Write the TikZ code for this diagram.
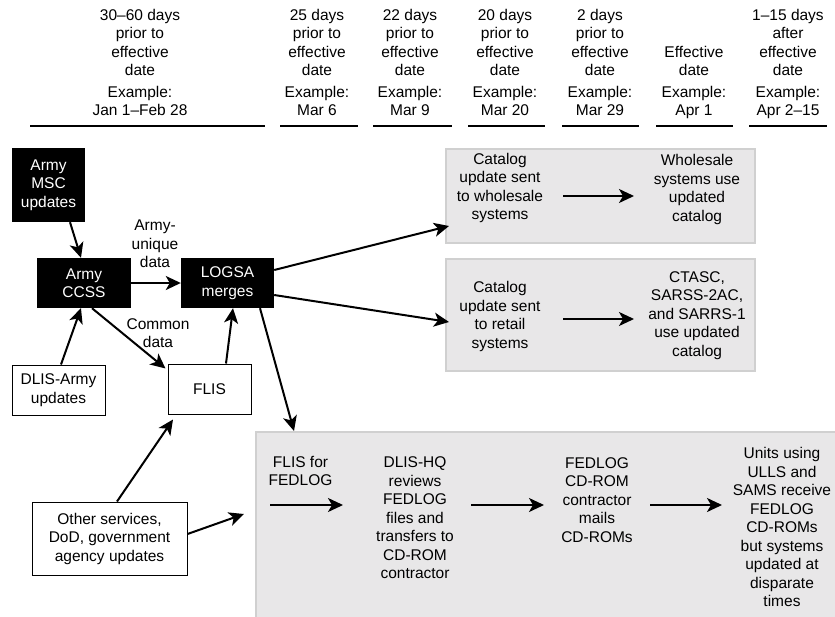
\documentclass[tikz,border=0pt]{standalone}
\usepackage{fontspec}
\setmainfont{Liberation Sans}
\usetikzlibrary{arrows.meta}
\definecolor{greyfill}{HTML}{E8E7E8}
\definecolor{greyedge}{HTML}{D0D0D0}
\begin{document}
\begin{tikzpicture}[x=1pt,y=-1pt,
  every node/.style={font=\fontsize{15.5}{18.5}\selectfont, align=center, inner sep=0pt},
  hdr/.style={anchor=north},
  blackbox/.style={fill=black, text=white},
  whitebox/.style={draw=black, line width=1pt, fill=white},
  greybox/.style={draw=greyedge, line width=2pt, fill=greyfill},
  arr/.style={-{Stealth[length=15pt,width=14pt,inset=4pt]}, line width=2pt},
  hrule/.style={line width=2.4pt}]
\clip (0,0) rectangle (835,616);
\fill[white] (0,0) rectangle (835,616);

% header
\node[hdr] (h1) at (140,8.7) {30–60 days\\prior to\\effective\\date};
\node[hdr] (e1) at (140,85.7) {Example:\\Jan 1–Feb 28};
\node[hdr] (h2) at (317,8.7) {25 days\\prior to\\effective\\date};
\node[hdr] (e2) at (317,85.7) {Example:\\Mar 6};
\node[hdr] (h3) at (410,8.7) {22 days\\prior to\\effective\\date};
\node[hdr] (e3) at (410,85.7) {Example:\\Mar 9};
\node[hdr] (h4) at (505,8.7) {20 days\\prior to\\effective\\date};
\node[hdr] (e4) at (505,85.7) {Example:\\Mar 20};
\node[hdr] (h5) at (600,8.7) {2 days\\prior to\\effective\\date};
\node[hdr] (e5) at (600,85.7) {Example:\\Mar 29};
\node[hdr] (h6) at (694,45.7) {Effective\\date};
\node[hdr] (e6) at (694,85.7) {Example:\\Apr 1};
\node[hdr] (h7) at (788,8.7) {1–15 days\\after\\effective\\date};
\node[hdr] (e7) at (788,85.7) {Example:\\Apr 2–15};
\draw[hrule] (30,126) -- (265,126);
\draw[hrule] (280,126) -- (358,126);
\draw[hrule] (373,126) -- (452,126);
\draw[hrule] (468,126) -- (545,126);
\draw[hrule] (562,126) -- (639,126);
\draw[hrule] (656,126) -- (733,126);
\draw[hrule] (749,126) -- (827,126);

% grey containers
\node[greybox, minimum width=309pt, minimum height=94pt] (box1) at (600.5,196) {};
\node[greybox, minimum width=309pt, minimum height=112pt] (box2) at (600.5,315) {};
\node[greybox, minimum width=590pt, minimum height=192pt] (box3) at (551,528) {};

% left nodes
\node[blackbox, minimum width=73pt, minimum height=74pt] (msc) at (48.5,185) {Army\\MSC\\updates};
\node[blackbox, minimum width=94pt, minimum height=50pt] (ccss) at (84,283) {Army\\CCSS};
\node[blackbox, minimum width=93pt, minimum height=50pt] (logsa) at (227.5,283) {LOGSA\\merges};
\node[whitebox, minimum width=93pt, minimum height=50pt] (dlisa) at (58.5,390) {DLIS-Army\\updates};
\node[whitebox, minimum width=83pt, minimum height=50pt] (flis) at (209.5,389) {FLIS};
\node[whitebox, minimum width=155pt, minimum height=73pt] (other) at (109.5,538.5) {Other services,\\DoD, government\\agency updates};
\node (lbl1) at (155,244) {Army-\\unique\\data};
\node (lbl2) at (158,333) {Common\\data};

% texts in grey boxes
\node (whl) at (500,188) {Catalog\\update sent\\to wholesale\\systems};
\node (wuse) at (697,189.5) {Wholesale\\systems use\\updated\\catalog};
\node (ret) at (500,316.5) {Catalog\\update sent\\to retail\\systems};
\node (ctasc) at (697,315.5) {CTASC,\\SARSS-2AC,\\and SARRS-1\\use updated\\catalog};
\node (flisfed) at (300.5,471) {FLIS for\\FEDLOG};
\node (dlishq) at (415,518) {DLIS-HQ\\reviews\\FEDLOG\\files and\\transfers to\\CD-ROM\\contractor};
\node (fedcd) at (597,500) {FEDLOG\\CD-ROM\\contractor\\mails\\CD-ROMs};
\node (units) at (782,527) {Units using\\ULLS and\\SAMS receive\\FEDLOG\\CD-ROMs\\but systems\\updated at\\disparate\\times};

% arrow ends inside grey boxes
\coordinate (a1s) at (563,196); \coordinate (a1e) at (634,196);
\coordinate (a2s) at (563,319); \coordinate (a2e) at (634,319);
\coordinate (b1s) at (270,505); \coordinate (b1e) at (343,505);
\coordinate (b2s) at (471,505); \coordinate (b2e) at (544,505);
\coordinate (b3s) at (650,505); \coordinate (b3e) at (722,505);
\draw[arr] (a1s) -- (a1e);
\draw[arr] (a2s) -- (a2e);
\draw[arr] (b1s) -- (b1e);
\draw[arr] (b2s) -- (b2e);
\draw[arr] (b3s) -- (b3e);

% connectors
\draw[arr] ([xshift=21.5pt]msc.south) -- ([xshift=-3pt]ccss.north);
\draw[arr] (ccss.east) -- (logsa.west);
\draw[arr] ([xshift=8pt]ccss.south) -- ([xshift=-2pt,yshift=-5pt]flis.north west);
\draw[arr] ([xshift=2.5pt]dlisa.north) -- ([xshift=-3pt]ccss.south);
\draw[arr] ([xshift=16.5pt]flis.north) -- ([xshift=5.5pt]logsa.south);
\draw[arr] ([xshift=7.5pt]other.north) -- ([xshift=-36.5pt,yshift=-5pt]flis.south);
\draw[arr] ([yshift=4.5pt]other.east) -- ([xshift=-11pt,yshift=14pt]box3.west);
\draw[arr] ([yshift=13pt]logsa.east) -- ([xshift=4pt,yshift=-30pt]box1.west);
\draw[arr] ([yshift=-12pt]logsa.east) -- ([xshift=4pt,yshift=-7pt]box2.west);
\draw[arr] ([xshift=32.5pt]logsa.south) -- ([xshift=39pt]box3.north west);
\end{tikzpicture}
\end{document}
